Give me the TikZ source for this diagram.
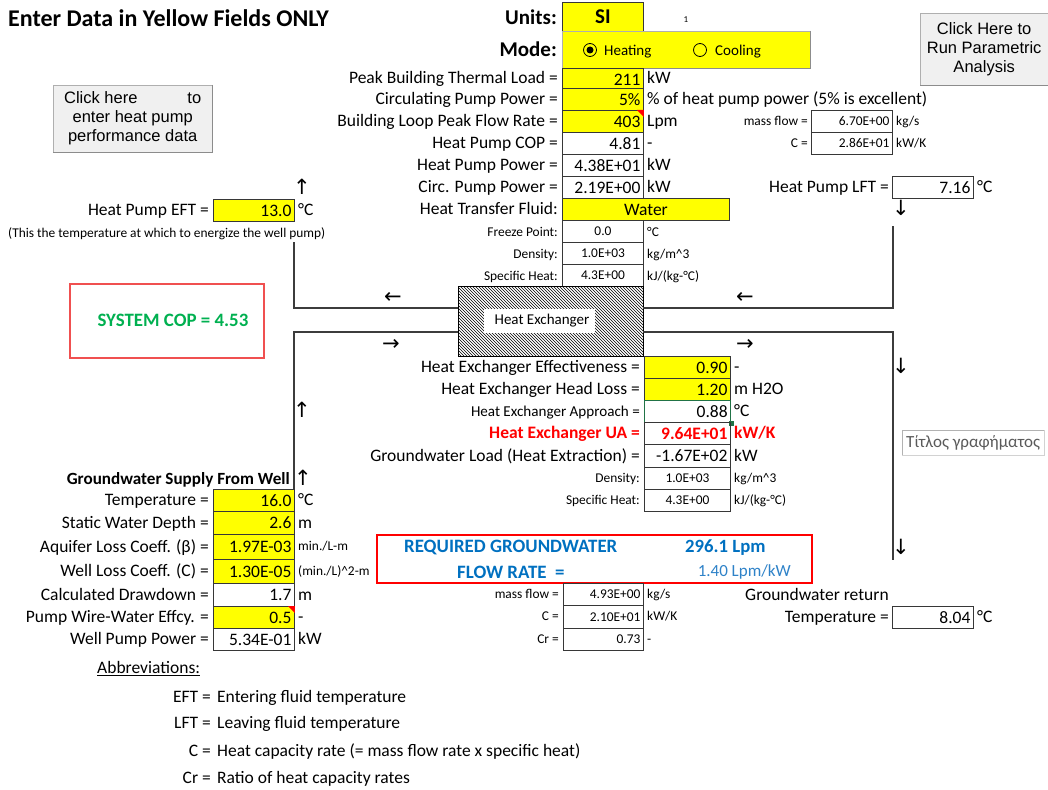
\documentclass[tikz,border=0pt]{standalone}
\usepackage{fontspec}
\setmainfont{Carlito}
\newfontfamily\arialfont{Liberation Sans}
\newfontfamily\arrowfont{DejaVu Sans}
\usetikzlibrary{patterns}

\definecolor{xlyellow}{RGB}{255,255,0}
\definecolor{cellgray}{RGB}{55,55,55}
\definecolor{pipegray}{RGB}{60,60,60}
\definecolor{btnfill}{RGB}{240,240,240}
\definecolor{btnedge}{RGB}{175,175,175}
\definecolor{shadegray}{RGB}{140,140,140}
\definecolor{xlred}{RGB}{255,0,0}
\definecolor{copred}{RGB}{240,80,80}
\definecolor{xlblue}{RGB}{0,112,192}
\definecolor{lightblue}{RGB}{46,130,200}
\definecolor{xlgreen}{RGB}{0,176,80}
\definecolor{selgreen}{RGB}{33,115,70}
\definecolor{titlegray}{RGB}{90,90,90}

\tikzset{
  normfont/.style={font=\fontsize{17.5}{20}\selectfont, text height=11.3, text depth=0},
  smallfont/.style={font=\fontsize{13.4}{16}\selectfont, text height=8.6, text depth=0},
  lbl/.style={normfont, anchor=east, inner sep=0},
  unt/.style={normfont, anchor=west, inner sep=0},
  cell/.style={normfont, draw=cellgray, line width=0.9, anchor=north west, minimum height=22, text width=75, align=right, inner xsep=3, inner ysep=0},
  ycell/.style={cell, fill=xlyellow},
  pipe/.style={draw=pipegray, line width=1.3},
  flow/.style={font=\arrowfont\fontsize{21}{21}\selectfont, inner sep=0},
  button/.style={draw=btnedge, fill=btnfill, anchor=north west, align=center, inner sep=0, font=\arialfont\fontsize{16.5}{19}\selectfont},
  shade/.style={draw=shadegray, line width=1.5},
  radio/.style={circle, draw, line width=0.8, minimum size=13, inner sep=0},
}

\begin{document}
\begin{tikzpicture}[x=1pt, y=-1pt]
  \useasboundingbox (0,0) rectangle (1048,789);

  % header
  \node[anchor=west, inner sep=0, font=\bfseries\fontsize{24}{28}\selectfont] (title) at (8,18) {Enter Data in Yellow Fields ONLY};
  \node[lbl, font=\bfseries\fontsize{21}{24}\selectfont, text height=13] (unitslbl) at (557,18) {Units:};
  \node[ycell, minimum height=29, align=center, font=\bfseries\fontsize{21}{24}\selectfont, text height=13] (units) at (562,2) {SI};
  \node[inner sep=0, font=\fontsize{9}{10}\selectfont] (unitsno) at (686,20) {1};
  \node[lbl, font=\bfseries\fontsize{21}{24}\selectfont, text height=13] (modelbl) at (557,50) {Mode:};
  \node[draw=btnedge, fill=xlyellow, anchor=north west, minimum width=248, minimum height=37] (mode) at (562,31) {};
  \draw[shade] (mode.north east) -- (mode.south east) -- (mode.south west);
  \node[radio] (heatrad) at (590,50) {};
  \fill (heatrad.center) circle (3.5);
  \node[unt, font=\fontsize{15}{16}\selectfont] (heating) at (604,50) {Heating};
  \node[radio] (coolrad) at (700,50) {};
  \node[unt, font=\fontsize{15}{16}\selectfont] (cooling) at (715,50) {Cooling};

  % buttons
  \node[button, minimum width=159, minimum height=67] (hpbtn) at (53,85) {Click here\hspace{50pt}to\\enter heat pump\\performance data};
  \draw[shade] (hpbtn.north east) -- (hpbtn.south east) -- (hpbtn.south west);
  \node[button, minimum width=128, minimum height=72] (parbtn) at (920,13) {Click Here to\\Run Parametric\\Analysis};
  \draw[shade] (parbtn.south east) -- (parbtn.south west);

  % building loop
  \node[lbl] (loadl) at (558,78) {Peak Building Thermal Load =};
  \node[ycell] (load) at (562,68) {211};
  \node[unt] (loadu) at (647,78) {kW};
  \node[lbl] (circl) at (558,99) {Circulating Pump Power =};
  \node[ycell] (circ) at (562,88) {5\%};
  \node[unt] (circu) at (647,99) {\% of heat pump power (5\% is excellent)};
  \node[lbl] (flowl) at (558,121) {Building Loop Peak Flow Rate =};
  \node[ycell] (flow) at (562,110) {403};
  \node[unt] (flowu) at (647,121) {Lpm};
  \fill[xlred] (flow.north east) -- ++(-7,0) -- ++(7,7) -- cycle;
  \node[lbl] (copl) at (558,143) {Heat Pump COP =};
  \node[cell] (cop) at (562,132) {4.81};
  \node[unt] (copu) at (647,143) {-};
  \node[lbl] (hppl) at (558,165) {Heat Pump Power =};
  \node[cell] (hpp) at (562,154) {4.38E+01};
  \node[unt] (hppu) at (647,165) {kW};
  \node[lbl] (cppl) at (558,187) {Circ. Pump Power =};
  \node[cell] (cpp) at (562,176) {2.19E+00};
  \node[unt] (cppu) at (647,187) {kW};
  \node[lbl] (fluidl) at (558,209) {Heat Transfer Fluid:};
  \node[ycell, text width=161, align=center] (fluid) at (562,198) {Water};
  \node[lbl, smallfont] (frzl) at (558,232) {Freeze Point:};
  \node[cell, smallfont, align=center] (frz) at (562,220) {0.0};
  \node[unt, smallfont] (frzu) at (647,232) {°C};
  \node[lbl, smallfont] (rhol) at (558,254) {Density:};
  \node[cell, smallfont, align=center] (rho) at (562,242) {1.0E+03};
  \node[unt, smallfont] (rhou) at (647,254) {kg/m\^{}3};
  \node[lbl, smallfont] (cpl) at (558,276) {Specific Heat:};
  \node[cell, smallfont, align=center] (cp) at (562,264) {4.3E+00};
  \node[unt, smallfont] (cpu) at (647,276) {kJ/(kg-°C)};

  \node[lbl, smallfont] (mfl) at (808,121) {mass flow =};
  \node[cell, smallfont] (mf) at (811,110) {6.70E+00};
  \node[unt, smallfont] (mfu) at (896,121) {kg/s};
  \node[lbl, smallfont] (cbl) at (808,143) {C =};
  \node[cell, smallfont] (cb) at (811,132) {2.86E+01};
  \node[unt, smallfont] (cbu) at (896,143) {kW/K};

  \node[lbl] (lftl) at (889,187) {Heat Pump LFT =};
  \node[cell] (lft) at (892,176) {7.16};
  \node[unt] (lftu) at (977,187) {°C};

  \node[lbl] (eftl) at (209,210) {Heat Pump EFT =};
  \node[ycell] (eft) at (213,199) {13.0};
  \node[unt] (eftu) at (298,210) {°C};
  \node[anchor=west, smallfont, inner sep=0] (eftnote) at (8,233) {(This the temperature at which to energize the well pump)};

  \node[draw=copred, line width=1.5, anchor=north west, minimum width=194, minimum height=74] (copbox) at (69,283) {};
  \node[text=xlgreen, font=\bfseries\fontsize{18.9}{22}\selectfont] (syscop) at (173,320) {SYSTEM COP = 4.53};

  % heat exchanger and pipes
  \node[draw=black, pattern=north west lines, anchor=north west, minimum width=185, minimum height=70] (hx) at (458,286) {};
  \node[fill=white, minimum width=111, minimum height=24, font=\fontsize{15}{17}\selectfont] (hxlbl) at (539,321) {\hspace{6pt}Heat Exchanger};
  \coordinate (hxa) at (458,308);
  \coordinate (hxb) at (458,332);
  \coordinate (hxc) at (643,308);
  \coordinate (hxd) at (643,332);
  \coordinate (eftend) at (294,242);
  \coordinate (lftend) at (893,226);
  \coordinate (wellend) at (294,489);
  \coordinate (retend) at (893,560);
  \draw[pipe] (eftend) |- (hxa);
  \draw[pipe] (hxc) -| (lftend);
  \draw[pipe] (wellend) |- (hxb);
  \draw[pipe] (hxd) -| (retend);

  \node[flow] (ar1) at (393,298) {←};
  \node[flow] (ar2) at (745,298) {←};
  \node[flow] (ar3) at (391,345) {→};
  \node[flow] (ar4) at (745,345) {→};
  \node[flow] (ar5) at (901,208) {↓};
  \node[flow] (ar6) at (901,366) {↓};
  \node[flow] (ar7) at (901,547) {↓};
  \node[flow] (ar8) at (302,187) {↑};
  \node[flow] (ar9) at (302,410) {↑};
  \node[flow] (ar10) at (303,478) {↑};

  % heat exchanger data
  \node[lbl] (effl) at (640,367) {Heat Exchanger Effectiveness =};
  \node[ycell, text width=80] (eff) at (644,356) {0.90};
  \node[unt] (effu) at (734,367) {-};
  \node[lbl] (hlossl) at (640,389) {Heat Exchanger Head Loss =};
  \node[ycell, text width=80] (hloss) at (644,378) {1.20};
  \node[unt] (hlossu) at (734,389) {m H2O};
  \node[lbl, font=\fontsize{15.1}{17}\selectfont] (appl) at (640,411) {Heat Exchanger Approach =};
  \node[cell, draw=selgreen, line width=1.3, text width=80] (app) at (644,400) {0.88};
  \fill[selgreen] (app.south east) ++(-2.5,-2.5) rectangle ++(5,5);
  \node[unt] (appu) at (734,411) {°C};
  \node[lbl, text=xlred] (ual) at (640,433) {\bfseries Heat Exchanger UA =};
  \node[cell, text=xlred, text width=80] (ua) at (644,422) {\bfseries 9.64E+01};
  \node[unt, text=xlred] (uau) at (734,433) {\bfseries kW/K};
  \node[lbl] (gwll) at (640,455.5) {Groundwater Load (Heat Extraction) =};
  \node[cell, text width=80, minimum height=23] (gwl) at (644,444) {-1.67E+02};
  \node[unt] (gwlu) at (734,455.5) {kW};
  \node[lbl, smallfont] (grhol) at (640,478) {Density:};
  \node[cell, smallfont, text width=80, align=center] (grho) at (644,467) {1.0E+03};
  \node[unt, smallfont] (grhou) at (734,478) {kg/m\^{}3};
  \node[lbl, smallfont] (gcpl) at (640,500) {Specific Heat:};
  \node[cell, smallfont, text width=80, align=center] (gcp) at (644,489) {4.3E+00};
  \node[unt, smallfont] (gcpu) at (734,500) {kJ/(kg-°C)};

  % required flow
  \node[draw=xlred, line width=2, anchor=north west, minimum width=435, minimum height=48] (reqbox) at (376,534) {};
  \node[anchor=west, inner sep=0, text=xlblue, font=\bfseries\fontsize{18.9}{22}\selectfont] (reqtxt) at (404,547) {REQUIRED GROUNDWATER};
  \node[anchor=west, inner sep=0, text=xlblue, font=\bfseries\fontsize{18.9}{22}\selectfont] (reqtxt2) at (457,572) {FLOW RATE\ \ =};
  \node[anchor=west, inner sep=0, text=xlblue, font=\bfseries\fontsize{18.7}{22}\selectfont] (reqval) at (685,548) {296.1 Lpm};
  \node[anchor=east, inner sep=0, text=lightblue, font=\fontsize{17}{20}\selectfont] (reqspec) at (791,572) {1.40 Lpm/kW};

  \node[lbl, smallfont] (gmfl) at (559,594) {mass flow =};
  \node[cell, smallfont, text width=74] (gmf) at (563,583) {4.93E+00};
  \node[unt, smallfont] (gmfu) at (647,594) {kg/s};
  \node[lbl, smallfont] (gcl) at (559,616.5) {C =};
  \node[cell, smallfont, text width=74, minimum height=23] (gc) at (563,605) {2.10E+01};
  \node[unt, smallfont] (gcu) at (647,616.5) {kW/K};
  \node[lbl, smallfont] (crl) at (559,639) {Cr =};
  \node[cell, smallfont, text width=74] (cr) at (563,628) {0.73};
  \node[unt, smallfont] (cru) at (647,639) {-};

  \node[unt] (retl1) at (745,595) {Groundwater return};
  \node[lbl] (retl) at (889,617) {Temperature =};
  \node[cell] (ret) at (892,606) {8.04};
  \node[unt] (retu) at (977,617) {°C};

  \node[draw=gray!60, fill=white, anchor=north west, minimum width=142, minimum height=25] (chart) at (902,430) {};
  \draw[shade, draw=gray!35] (chart.north east) -- (chart.south east) -- (chart.south west);
  \node[text=titlegray, font=\fontsize{17}{19}\selectfont] (charttxt) at (chart.center) {Τίτλος γραφήματος};

  % groundwater supply
  \node[lbl, font=\bfseries\fontsize{17.1}{20}\selectfont] (gwhead) at (290,479) {Groundwater Supply From Well};
  \node[lbl] (twl) at (209,500) {Temperature =};
  \node[ycell] (tw) at (213,489) {16.0};
  \node[unt] (twu) at (298,500) {°C};
  \node[lbl] (swdl) at (209,522.5) {Static Water Depth =};
  \node[ycell, minimum height=23] (swd) at (213,511) {2.6};
  \node[unt] (swdu) at (298,522.5) {m};
  \node[lbl] (aql) at (209,546.5) {Aquifer Loss Coeff. (β) =};
  \node[ycell, minimum height=25] (aq) at (213,534) {1.97E-03};
  \node[unt, smallfont] (aqu) at (298,546.5) {min./L-m};
  \node[lbl] (wll) at (209,571) {Well Loss Coeff. (C) =};
  \node[ycell, minimum height=24] (wl) at (213,559) {1.30E-05};
  \node[unt, smallfont] (wlu) at (298,571) {(min./L)\^{}2-m};
  \node[lbl] (ddl) at (209,594.5) {Calculated Drawdown =};
  \node[cell, minimum height=23] (dd) at (213,583) {1.7};
  \node[unt] (ddu) at (298,594.5) {m};
  \node[lbl] (pwl) at (209,617) {Pump Wire-Water Effcy. =};
  \node[ycell] (pw) at (213,606) {0.5};
  \node[unt] (pwu) at (298,617) {-};
  \fill[xlred] (pw.north east) -- ++(-7,0) -- ++(7,7) -- cycle;
  \node[lbl] (wppl) at (209,639) {Well Pump Power =};
  \node[cell] (wpp) at (213,628) {5.34E-01};
  \node[unt] (wppu) at (298,639) {kW};

  % abbreviations
  \node[unt] (abbr) at (97,668) {\underline{Abbreviations:}};
  \node[lbl] (ab1) at (211,697) {EFT =};
  \node[unt] (ab1t) at (217,697) {Entering fluid temperature};
  \node[lbl] (ab2) at (211,723) {LFT =};
  \node[unt] (ab2t) at (217,723) {Leaving fluid temperature};
  \node[lbl] (ab3) at (211,751) {C =};
  \node[unt] (ab3t) at (217,751) {Heat capacity rate (= mass flow rate x specific heat)};
  \node[lbl] (ab4) at (211,778) {Cr =};
  \node[unt] (ab4t) at (217,778) {Ratio of heat capacity rates};
\end{tikzpicture}
\end{document}
